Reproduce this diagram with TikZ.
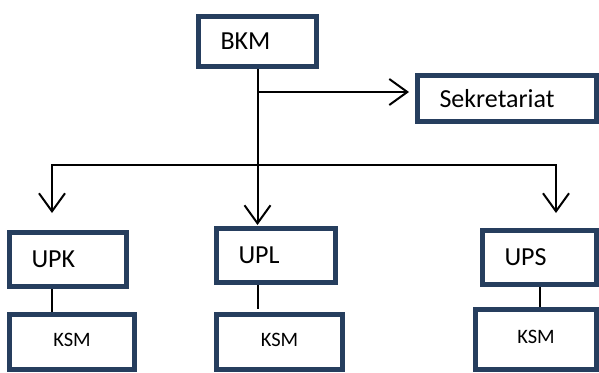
\documentclass[tikz,border=0pt]{standalone}
\usepackage{fontspec}
\setmainfont{Carlito}
\usetikzlibrary{arrows.meta,calc,backgrounds}
\definecolor{boxblue}{RGB}{38,62,94}

\begin{document}
\begin{tikzpicture}[
    x=1pt, y=-1pt,
    box/.style={
        rectangle,
        draw=boxblue,
        line width=5pt,
        fill=white,
        inner sep=0pt
    },
    unitbox/.style={
        box,
        inner xsep=22pt,
        align=left,
        font=\fontsize{26}{30}\selectfont
    },
    ksmbox/.style={
        box,
        align=center,
        text depth=5pt,
        font=\fontsize{20.5}{24}\selectfont
    },
    line/.style={draw=black, line width=2pt, -{Straight Barb[length=18pt, width=26pt]}},
    link/.style={draw=black, line width=2pt}
]
\useasboundingbox (0,0) rectangle (599,372);

% Top level
\node [unitbox, text width=74pt, minimum height=50pt] (bkm) at (257.5,41.5) {BKM};
\node [unitbox, text width=135pt, minimum height=46pt] (sek) at (507,98.5) {Sekretariat};

% Units
\node [unitbox, text width=73pt, minimum height=54pt] (upk) at (68,259.5) {UPK};
\node [unitbox, text width=75pt, minimum height=54pt] (upl) at (276,255.5) {UPL};
\node [unitbox, text width=70pt, minimum height=54pt] (ups) at (539.5,257.5) {UPS};

% KSM groups
\node [ksmbox, minimum width=125pt, minimum height=55pt] (ksm1) at (72,342) {KSM};
\node [ksmbox, minimum width=126pt, minimum height=55pt] (ksm2) at (279.5,342) {KSM};
\node [ksmbox, minimum width=121pt, minimum height=60pt] (ksm3) at (536,339.5) {KSM};

% Branch points
\coordinate (fork) at (257.5,92);
\coordinate (branch) at (257.5,165);
\coordinate (upk tip) at (52,213);
\coordinate (ups tip) at (556,213);

% Connections
\begin{scope}[on background layer]
    \draw [line, shorten >=1pt] (bkm.south) -- (bkm.south |- upl.north);
    \draw [line, shorten >=6pt] (fork) -- (fork -| sek.west);
    \draw [line] (branch) -| (upk tip);
    \draw [line] (branch) -| (ups tip);
    \draw [link] (upk tip |- upk.south) -- (upk tip |- ksm1.north);
    \draw [link] (bkm.south |- upl.south) -- ($(bkm.south |- ksm2.north)+(0,-3)$);
    \draw [link] (ups.south) -- (ups.south |- ksm3.north);
\end{scope}

\end{tikzpicture}
\end{document}
